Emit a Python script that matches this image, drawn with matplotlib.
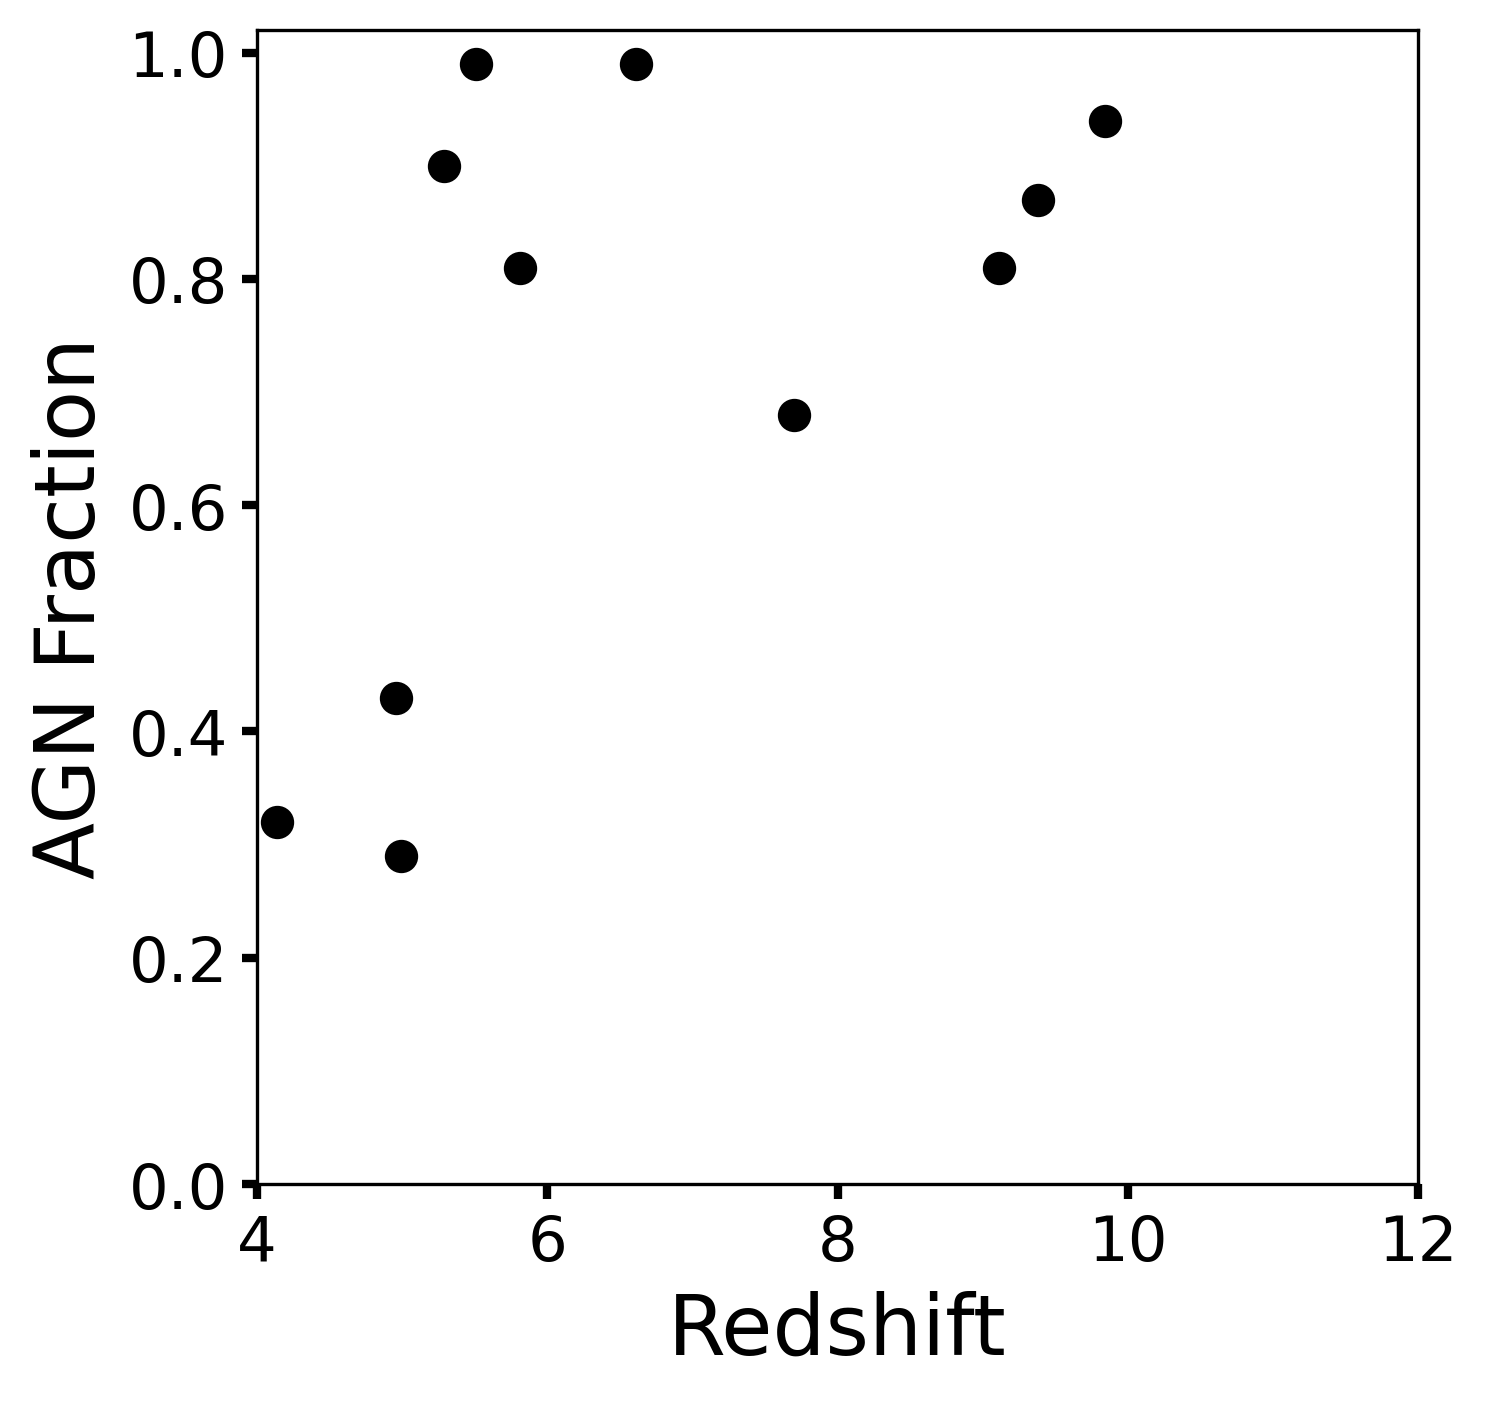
import matplotlib
matplotlib.use("Agg")
import matplotlib.pyplot as plt

redshift = [4.14, 4.96, 4.99, 5.29, 5.51, 5.81, 6.61, 7.70, 9.11, 9.38, 9.84]
agn_fraction = [0.32, 0.43, 0.29, 0.90, 0.99, 0.81, 0.99, 0.68, 0.81, 0.87, 0.94]
xticks = [4, 6, 8, 10, 12]
yticks = [0.0, 0.2, 0.4, 0.6, 0.8, 1.0]

W, H, DPI = 1488, 1402, 300
fig = plt.figure(figsize=(W / DPI, H / DPI), dpi=DPI)
l, r, t, b = 257, 1418, 31, 1185
ax = fig.add_axes([l / W, 1 - b / H, (r - l) / W, (b - t) / H])

ax.scatter(redshift, agn_fraction, s=49, color="black", zorder=3)
ax.set_xlim(4, 12)
ax.set_ylim(0, 1.02)
ax.set_xticks(xticks)
ax.set_yticks(yticks)
ax.set_yticklabels([f"{v:.1f}" for v in yticks])
ax.tick_params(axis="both", labelsize=15, width=2, length=3.5)
ax.set_xlabel("Redshift", fontsize=20)
ax.set_ylabel("AGN Fraction", fontsize=20)

fig.savefig("out.png", dpi=DPI)
